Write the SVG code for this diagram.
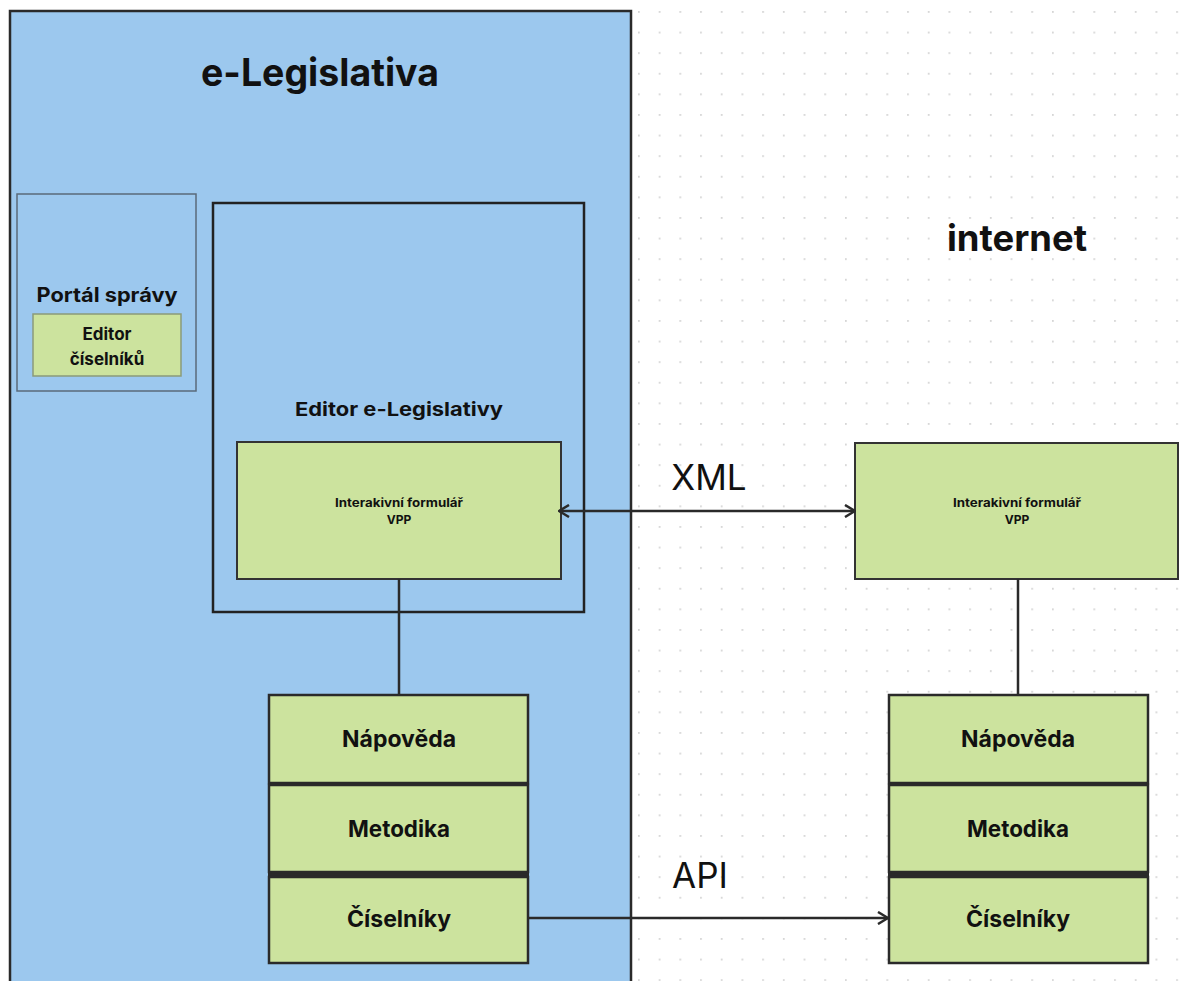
<svg xmlns="http://www.w3.org/2000/svg" width="1192" height="981" viewBox="0 0 1192 981">
<style>
.t{font-family:Inter,"Liberation Sans",Arial,sans-serif;font-weight:700;fill:#111;text-anchor:middle}
.r{font-family:Inter,"Liberation Sans",Arial,sans-serif;font-weight:400;fill:#111;text-anchor:middle}
.g{fill:#CCE39E;stroke:#333;stroke-width:2}
.s{fill:#CCE39E;stroke:#2a2a2a;stroke-width:2.5}
.b{fill:#2a2a2a}
.c{stroke:#2a2a2a;stroke-width:2.5;fill:none}
</style>
<defs>
<pattern id="dots" x="638" y="11" width="20.7" height="20.6" patternUnits="userSpaceOnUse">
<circle cx="0.9" cy="0.9" r="0.9" fill="#c8c8c8"/>
</pattern>
<marker id="ah" viewBox="0 0 12 14" refX="11" refY="7" markerWidth="12" markerHeight="14" markerUnits="userSpaceOnUse" orient="auto-start-reverse">
<path d="M1,1 L11,7 L1,13" fill="none" stroke="#2a2a2a" stroke-width="2.5"/>
</marker>
</defs>
<rect width="1192" height="981" fill="#fff"/>
<rect width="1192" height="981" fill="url(#dots)"/>

<g id="e-legislativa">
<rect x="10" y="11" width="621" height="985" fill="#9CC8EE" stroke="#2a2a2a" stroke-width="2.5"/>
<text class="t" x="320" y="86" font-size="38" textLength="238" lengthAdjust="spacingAndGlyphs">e-Legislativa</text>
</g>

<g id="internet">
<text class="t" x="1017" y="251" font-size="36" textLength="140" lengthAdjust="spacingAndGlyphs">internet</text>
</g>

<g id="portal-spravy">
<rect x="17" y="194" width="179" height="197" fill="none" stroke="#5a6a7a" stroke-width="1.5"/>
<text class="t" x="107" y="302" font-size="20" textLength="141" lengthAdjust="spacingAndGlyphs">Portál správy</text>
</g>

<g id="editor-ciselniku">
<rect x="33" y="314" width="148" height="62" fill="#CCE39E" stroke="#8a9a7a" stroke-width="1.5"/>
<text class="t" x="107" y="340" font-size="17">Editor</text>
<text class="t" x="107" y="365" font-size="17">číselníků</text>
</g>

<g id="editor-e-legislativy">
<rect x="213" y="203" width="371" height="409" fill="none" stroke="#222" stroke-width="2.5"/>
<text class="t" x="399" y="416" font-size="19" textLength="208" lengthAdjust="spacingAndGlyphs">Editor e-Legislativy</text>
</g>

<g id="formular-left">
<rect class="g" x="237" y="442" width="324" height="137"/>
<text class="t" x="399" y="507" font-size="12" textLength="128" lengthAdjust="spacingAndGlyphs">Interakivní formulář</text>
<text class="t" x="399" y="524" font-size="12">VPP</text>
</g>

<g id="formular-right">
<rect class="g" x="855" y="443" width="323" height="136"/>
<text class="t" x="1017" y="507" font-size="12" textLength="128" lengthAdjust="spacingAndGlyphs">Interakivní formulář</text>
<text class="t" x="1017" y="524" font-size="12">VPP</text>
</g>

<g id="napoveda-left">
<rect class="s" x="269" y="695" width="259" height="88"/>
<text class="t" x="399" y="747" font-size="23" textLength="114" lengthAdjust="spacingAndGlyphs">Nápověda</text>
</g>
<g id="metodika-left">
<rect class="b" x="268" y="782" width="261" height="96"/>
<rect class="s" x="269" y="785" width="259" height="87"/>
<text class="t" x="399" y="837" font-size="23" textLength="102" lengthAdjust="spacingAndGlyphs">Metodika</text>
</g>
<g id="ciselniky-left">
<rect class="s" x="269" y="877" width="259" height="86"/>
<text class="t" x="399" y="927" font-size="23" textLength="104" lengthAdjust="spacingAndGlyphs">Číselníky</text>
</g>

<g id="napoveda-right">
<rect class="s" x="889" y="695" width="259" height="88"/>
<text class="t" x="1018" y="747" font-size="23" textLength="114" lengthAdjust="spacingAndGlyphs">Nápověda</text>
</g>
<g id="metodika-right">
<rect class="b" x="888" y="782" width="261" height="96"/>
<rect class="s" x="889" y="785" width="259" height="87"/>
<text class="t" x="1018" y="837" font-size="23" textLength="102" lengthAdjust="spacingAndGlyphs">Metodika</text>
</g>
<g id="ciselniky-right">
<rect class="s" x="889" y="877" width="259" height="86"/>
<text class="t" x="1018" y="927" font-size="23" textLength="104" lengthAdjust="spacingAndGlyphs">Číselníky</text>
</g>

<g id="connectors">
<line class="c" x1="399" y1="579" x2="399" y2="695"/>
<line class="c" x1="1018" y1="579" x2="1018" y2="695"/>
<line class="c" x1="559" y1="511" x2="855" y2="511" marker-start="url(#ah)" marker-end="url(#ah)"/>
<line class="c" x1="528" y1="918" x2="888" y2="918" marker-end="url(#ah)"/>
<text class="r" x="709" y="490" font-size="35">XML</text>
<text class="r" x="700" y="888" font-size="35">API</text>
</g>
</svg>
